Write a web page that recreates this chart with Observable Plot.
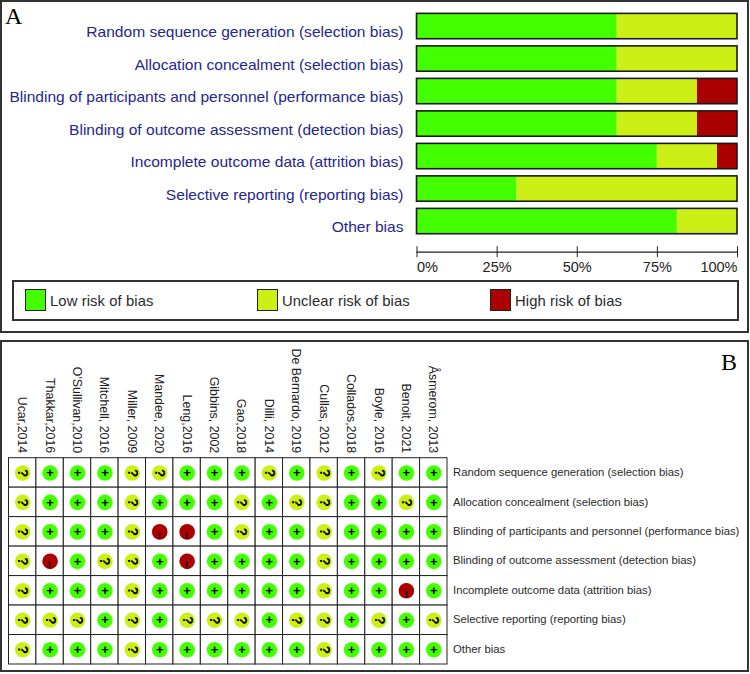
<!DOCTYPE html>
<html><head><meta charset="utf-8">
<script src="https://cdn.jsdelivr.net/npm/d3@7"></script>
<script src="https://cdn.jsdelivr.net/npm/@observablehq/plot@0.6"></script>
<style>
html,body{margin:0;padding:0;background:#fff;width:750px;height:674px;overflow:hidden}
.abs{position:absolute;box-sizing:border-box}
svg{background:transparent!important}
.lg{font:14.8px "Liberation Sans",sans-serif;color:#2a2a2a;white-space:nowrap;letter-spacing:.1px}
.letter{font:24px "Liberation Serif",serif;color:#000;line-height:24px}
</style></head><body>
<div class="abs" style="left:0;top:0;width:749px;height:333px;border:2px solid #333"></div>
<div class="abs" style="left:0;top:340px;width:749px;height:332px;border:2px solid #333"></div>
<div id="a" class="abs" style="left:0;top:0"></div>
<div id="b" class="abs" style="left:0;top:341px"></div>
<div class="abs letter" style="left:5px;top:4px">A</div>
<div class="abs letter" style="left:721px;top:350px">B</div>
<div id="legend"></div>
<script>
const domains=["Random sequence generation (selection bias)","Allocation concealment (selection bias)","Blinding of participants and personnel (performance bias)","Blinding of outcome assessment (detection bias)","Incomplete outcome data (attrition bias)","Selective reporting (reporting bias)","Other bias"];
const riskLabels=["Low risk of bias","Unclear risk of bias","High risk of bias"];
const lowPct=[62.5,62.5,62.5,62.5,75,31.25,81.25];
const unclearPct=[37.5,37.5,25,25,18.75,68.75,18.75];
const highPct=[0,0,12.5,12.5,6.25,0,0];
const studies=["Ucar,2014","Thakkar,2016","O'Sullivan,2010","Mitchell, 2016","Miller, 2009","Mandee, 2020","Leng,2016","Gibbins, 2002","Gao,2018","Dilli, 2014","De Bernardo, 2019","Cullas, 2012","Collados,2018","Boyle, 2016","Benoit, 2021","Åsmerom, 2013"];
const randomSeq =["?","+","+","+","?","?","+","+","+","?","+","?","+","?","+","+"];
const allocation=["?","+","+","+","?","+","+","+","?","+","?","?","+","+","?","+"];
const blindPart =["?","+","+","+","?","-","-","+","?","+","+","?","+","+","+","+"];
const blindOut  =["?","-","+","?","?","+","-","+","+","+","+","?","+","+","+","+"];
const incomplete=["?","+","+","+","?","+","+","+","+","+","+","?","+","+","-","+"];
const selective =["?","?","?","+","?","+","?","?","?","+","?","?","+","?","+","?"];
const other     =["?","+","+","+","?","+","+","+","+","+","+","?","+","+","+","+"];
const colors=["#44ff00","#ccf015","#aa0000"];
const font='"Liberation Sans",sans-serif';

const barData=domains.flatMap((d,i)=>[lowPct[i],unclearPct[i],highPct[i]].map((v,k)=>({domain:d,risk:riskLabels[k],value:v})));
const axisOpts={tickSize:11,dy:-5.5,tickPadding:4,fontSize:14.5,color:"#222",label:null,tickFormat:d=>d+"%"};
const plotA=Plot.plot({width:750,height:335,marginLeft:416.5,marginRight:13,marginTop:0,marginBottom:83.3,
  style:{fontFamily:font,background:"transparent"},
  x:{domain:[0,100]},
  y:{domain:domains,range:[9.8,237.3],paddingInner:.22,paddingOuter:.11,round:false},
  color:{domain:riskLabels,range:colors},
  marks:[
    Plot.barX(barData,Plot.stackX({x:"value",y:"domain",fill:"risk",order:riskLabels})),
    Plot.barX(domains,{x1:0,x2:100,y:d=>d,fill:"none",stroke:"#1a1a1a",strokeWidth:1.6}),
    Plot.axisY({anchor:"left",tickSize:0,tickPadding:13.5,dy:5.5,fontSize:15.55,color:"#26268a",label:null}),
    Plot.frame({anchor:"bottom",stroke:"#222",strokeWidth:1.3}),
    Plot.axisX({...axisOpts,ticks:[0],textAnchor:"start"}),
    Plot.axisX({...axisOpts,ticks:[25,50,75]}),
    Plot.axisX({...axisOpts,ticks:[100],textAnchor:"end"})
  ]});
document.getElementById("a").append(plotA);

const rows=[randomSeq,allocation,blindPart,blindOut,incomplete,selective,other];
const cells=domains.flatMap((d,i)=>studies.map((s,j)=>({domain:d,study:s,j:rows[i][j]})));
const judgement=["+","?","-"];
const plotB=Plot.plot({width:750,height:333,marginLeft:8.5,marginRight:303,marginTop:116.7,marginBottom:10,
  style:{fontFamily:font,background:"transparent"},
  x:{domain:studies,padding:0,round:false},
  y:{domain:domains,padding:0,round:false},
  color:{domain:judgement,range:colors},
  marks:[
    Plot.cell(cells,{x:"study",y:"domain",fill:"#fff",stroke:"#222",strokeWidth:1}),
    Plot.dot(cells,{x:"study",y:"domain",fill:"j",r:7.8}),
    Plot.text(cells,{x:"study",y:"domain",text:"j",filter:d=>d.j==="+",fontSize:13,fontWeight:"bold",fill:"#000"}),
    Plot.text(cells,{x:"study",y:"domain",text:"j",filter:d=>d.j==="?",rotate:90,fontSize:14,fontWeight:"bold",fill:"#000"}),
    Plot.text(cells,{x:"study",y:"domain",text:()=>"–",filter:d=>d.j==="-",rotate:90,dy:3.5,fontSize:12,fontWeight:"bold",fill:"#000"}),
    Plot.axisX({anchor:"top",tickRotate:90,tickSize:0,tickPadding:5,dx:-.5,fontSize:12.4,color:"#222",label:null}),
    Plot.axisY({anchor:"right",tickSize:0,tickPadding:5.5,dy:-.5,fontSize:11.3,color:"#2a2a2a",label:null})
  ]});
document.getElementById("b").append(plotB);

const lg=document.getElementById("legend");
lg.innerHTML=`<div class="abs" style="left:12px;top:280px;width:727px;height:41px;border:2px solid #333"></div>`+
 riskLabels.map((t,i)=>{const x=[25,257,490][i];
  return `<div class="abs" style="left:${x}px;top:289px;width:21px;height:22px;background:${colors[i]};border:1.5px solid #222"></div>`+
         `<div class="abs lg" style="left:${x+25}px;top:293px">${t}</div>`}).join("");
</script>
</body></html>
